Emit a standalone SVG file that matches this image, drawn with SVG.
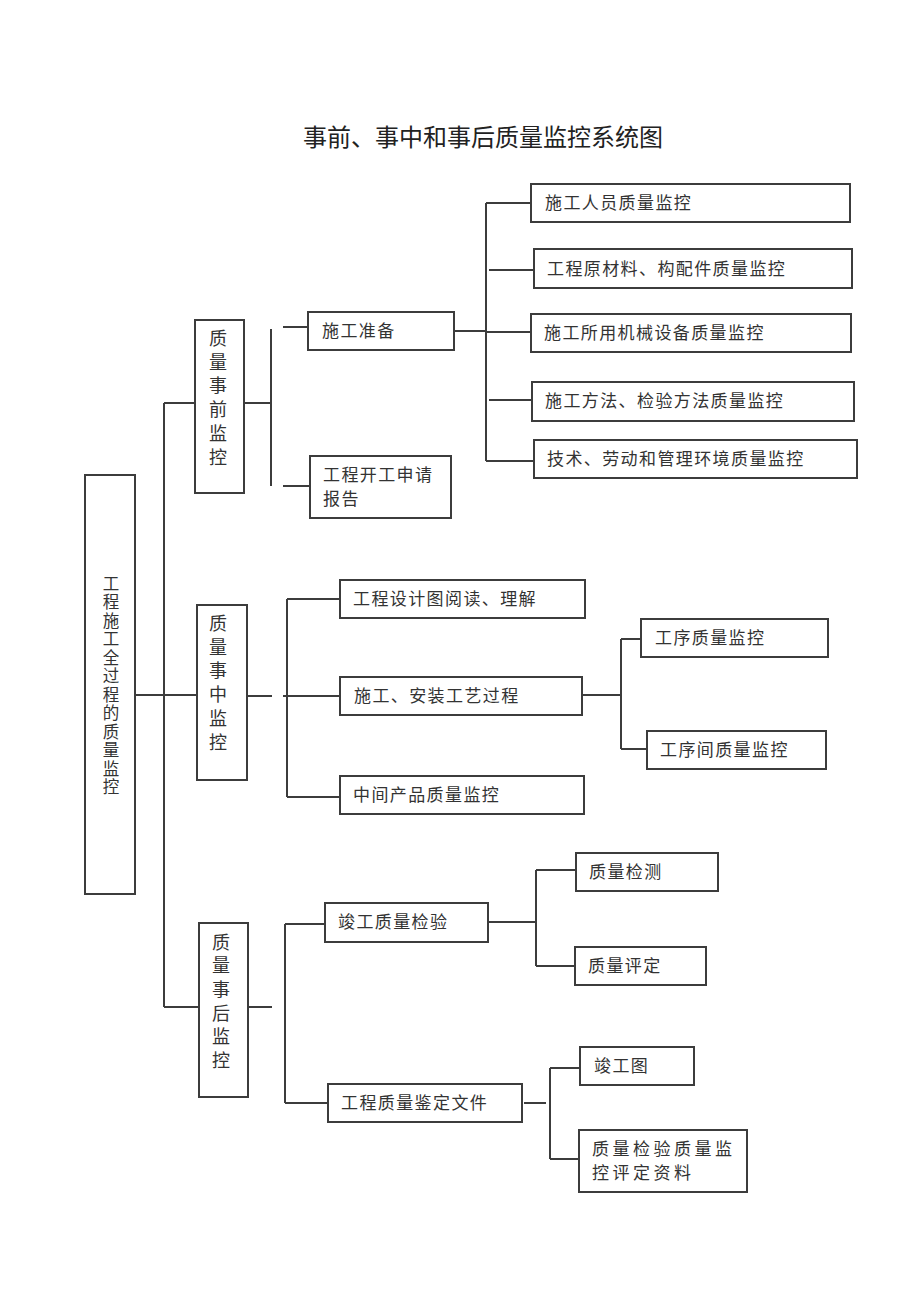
<svg xmlns="http://www.w3.org/2000/svg" width="920" height="1301" viewBox="0 0 920 1301">
<style>
.b{fill:#fff;stroke:#3c3c3c;stroke-width:2}
.t{font-family:"Noto Sans CJK SC","Liberation Serif",sans-serif;font-size:17px;fill:#333;letter-spacing:1.4px}
.v{font-family:"Noto Sans CJK SC","Liberation Serif",sans-serif;font-size:18px;fill:#333;writing-mode:vertical-rl;letter-spacing:5.8px}
.c line{stroke:#3c3c3c;stroke-width:2}
</style>
<rect width="920" height="1301" fill="#fff"/>
<text x="483" y="146" text-anchor="middle" style="font-family:'Noto Sans CJK SC','Liberation Serif',sans-serif;font-size:24px;fill:#222">事前、事中和事后质量监控系统图</text>
<g class="c">
<line x1="164" y1="403" x2="164" y2="1007"/>
<line x1="135" y1="695" x2="197" y2="695"/>
<line x1="164" y1="403" x2="195" y2="403"/>
<line x1="164" y1="1007" x2="199" y2="1007"/>
<line x1="244" y1="403" x2="271" y2="403"/>
<line x1="271" y1="329" x2="271" y2="486"/>
<line x1="283" y1="327" x2="308" y2="327"/>
<line x1="283" y1="486" x2="310" y2="486"/>
<line x1="454" y1="331" x2="486" y2="331"/>
<line x1="486" y1="203" x2="486" y2="461"/>
<line x1="486" y1="203" x2="531" y2="203"/>
<line x1="489" y1="270" x2="534" y2="270"/>
<line x1="486" y1="332" x2="531" y2="332"/>
<line x1="489" y1="400" x2="532" y2="400"/>
<line x1="486" y1="461" x2="534" y2="461"/>
<line x1="247" y1="696" x2="272" y2="696"/>
<line x1="283" y1="696" x2="340" y2="696"/>
<line x1="287" y1="599" x2="287" y2="797"/>
<line x1="287" y1="599" x2="340" y2="599"/>
<line x1="287" y1="797" x2="340" y2="797"/>
<line x1="582" y1="695" x2="621" y2="695"/>
<line x1="621" y1="639" x2="621" y2="749"/>
<line x1="621" y1="639" x2="641" y2="639"/>
<line x1="621" y1="749" x2="647" y2="749"/>
<line x1="248" y1="1007" x2="272" y2="1007"/>
<line x1="285" y1="924" x2="285" y2="1103"/>
<line x1="285" y1="924" x2="325" y2="924"/>
<line x1="285" y1="1103" x2="328" y2="1103"/>
<line x1="488" y1="922" x2="536" y2="922"/>
<line x1="536" y1="870" x2="536" y2="966"/>
<line x1="536" y1="870" x2="576" y2="870"/>
<line x1="536" y1="966" x2="576" y2="966"/>
<line x1="524" y1="1103" x2="546" y2="1103"/>
<line x1="550" y1="1068" x2="550" y2="1159"/>
<line x1="550" y1="1068" x2="581" y2="1068"/>
<line x1="550" y1="1159" x2="580" y2="1159"/>
</g>
<g id="root"><rect class="b" x="85" y="475" width="50" height="419"/>
<text class="v" x="111" y="575" style="font-size:16.5px;letter-spacing:2px">工程施工全过程的质量监控</text></g>
<g id="pre"><rect class="b" x="195" y="320" width="49" height="173"/>
<text class="v" x="218" y="329">质量事前监控</text></g>
<g id="mid"><rect class="b" x="197" y="605" width="50" height="175"/>
<text class="v" x="218" y="614">质量事中监控</text></g>
<g id="post"><rect class="b" x="199" y="923" width="49" height="174"/>
<text class="v" x="221" y="933" style="letter-spacing:5.6px">质量事后监控</text></g>
<g id="n1"><rect class="b" x="308" y="312" width="146" height="38"/><text class="t" x="322" y="337">施工准备</text></g>
<g id="n2"><rect class="b" x="310" y="456" width="141" height="62"/><text class="t" x="323" y="481">工程开工申请</text><text class="t" x="323" y="505">报告</text></g>
<g id="n3"><rect class="b" x="531" y="184" width="319" height="38"/><text class="t" x="545" y="209">施工人员质量监控</text></g>
<g id="n4"><rect class="b" x="534" y="249" width="318" height="39"/><text class="t" x="547" y="275">工程原材料、构配件质量监控</text></g>
<g id="n5"><rect class="b" x="531" y="314" width="320" height="38"/><text class="t" x="544" y="339">施工所用机械设备质量监控</text></g>
<g id="n6"><rect class="b" x="532" y="382" width="322" height="39"/><text class="t" x="545" y="407">施工方法、检验方法质量监控</text></g>
<g id="n7"><rect class="b" x="534" y="440" width="323" height="38"/><text class="t" x="547" y="465">技术、劳动和管理环境质量监控</text></g>
<g id="n8"><rect class="b" x="340" y="580" width="245" height="38"/><text class="t" x="353" y="605">工程设计图阅读、理解</text></g>
<g id="n9"><rect class="b" x="340" y="677" width="242" height="38"/><text class="t" x="354" y="702">施工、安装工艺过程</text></g>
<g id="n10"><rect class="b" x="340" y="776" width="244" height="38"/><text class="t" x="353" y="801">中间产品质量监控</text></g>
<g id="n11"><rect class="b" x="641" y="619" width="187" height="38"/><text class="t" x="655" y="644">工序质量监控</text></g>
<g id="n12"><rect class="b" x="647" y="731" width="179" height="38"/><text class="t" x="660" y="756">工序间质量监控</text></g>
<g id="n13"><rect class="b" x="325" y="903" width="163" height="39"/><text class="t" x="338" y="928">竣工质量检验</text></g>
<g id="n14"><rect class="b" x="576" y="853" width="142" height="38"/><text class="t" x="589" y="878">质量检测</text></g>
<g id="n15"><rect class="b" x="575" y="947" width="131" height="38"/><text class="t" x="588" y="972">质量评定</text></g>
<g id="n16"><rect class="b" x="328" y="1084" width="194" height="38"/><text class="t" x="341" y="1109">工程质量鉴定文件</text></g>
<g id="n17"><rect class="b" x="580" y="1047" width="114" height="38"/><text class="t" x="594" y="1072">竣工图</text></g>
<g id="n18"><rect class="b" x="579" y="1130" width="168" height="62"/><text class="t" x="592" y="1155" style="letter-spacing:3.5px">质量检验质量监</text><text class="t" x="592" y="1179" style="letter-spacing:3.5px">控评定资料</text></g>
</svg>
